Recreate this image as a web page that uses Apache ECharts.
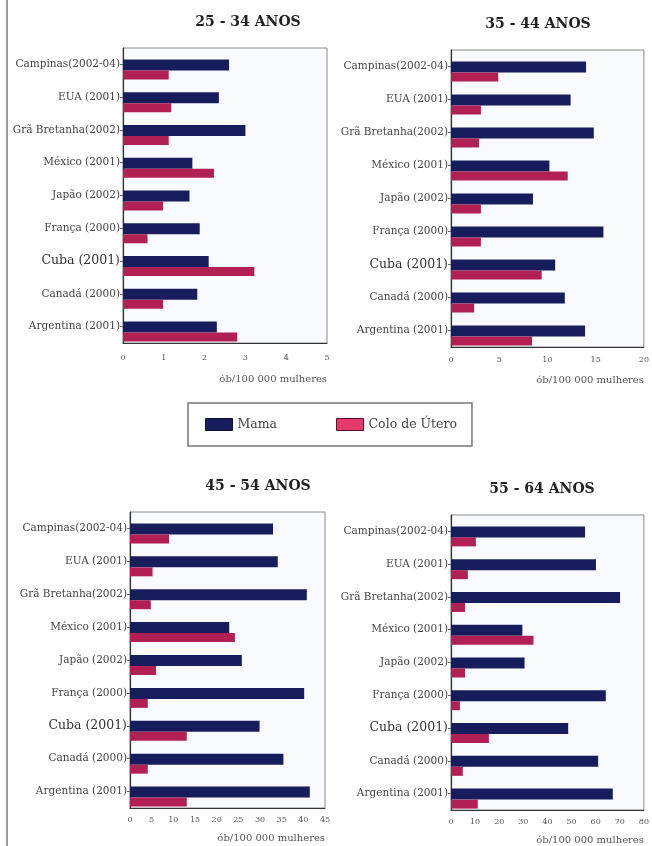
<!DOCTYPE html>
<html>
<head>
<meta charset="utf-8">
<script src="https://cdn.jsdelivr.net/npm/echarts@6/dist/echarts.min.js"></script>
<style>
  html, body { margin: 0; padding: 0; background: #ffffff; }
  #chart { width: 652px; height: 846px; }
</style>
</head>
<body>
<div id="chart"></div>
<script>
// Countries (top to bottom in every panel)
const countries = [
  'Campinas(2002-04)', 'EUA (2001)', 'Grã Bretanha(2002)', 'México (2001)',
  'Japão (2002)', 'França (2000)', 'Cuba (2001)', 'Canadá (2000)', 'Argentina (2001)'
];

// Age groups shown as panel titles
const ageGroups = ['25 - 34 ANOS', '35 - 44 ANOS', '45 - 54 ANOS', '55 - 64 ANOS'];

// Mortality rates, deaths per 100 000 women
const mama25 = [2.6, 2.35, 3.0, 1.7, 1.63, 1.88, 2.1, 1.82, 2.3];
const colo25 = [1.12, 1.18, 1.12, 2.23, 0.98, 0.6, 3.22, 0.98, 2.8];

const mama35 = [14.0, 12.4, 14.8, 10.2, 8.5, 15.8, 10.8, 11.8, 13.9];
const colo35 = [4.9, 3.1, 2.9, 12.1, 3.1, 3.1, 9.4, 2.4, 8.4];

const mama45 = [33.0, 34.1, 40.8, 22.9, 25.8, 40.2, 29.9, 35.4, 41.5];
const colo45 = [9.0, 5.2, 4.8, 24.2, 6.0, 4.1, 13.1, 4.1, 13.1];

const mama55 = [55.6, 60.1, 70.1, 29.6, 30.5, 64.2, 48.6, 61.0, 67.1];
const colo55 = [10.3, 7.0, 5.8, 34.2, 5.8, 3.7, 15.7, 4.9, 11.1];

// Axis ranges
const axisMax = [5, 20, 45, 80];
const axisStep = [1, 5, 5, 10];

const mamaSets = [mama25, mama35, mama45, mama55];
const coloSets = [colo25, colo35, colo45, colo55];

const axisTitle = 'ób/100 000 mulheres';
const NAVY = '#171d5c';
const CRIMSON = '#b21f52';
const SERIF = '"DejaVu Serif", "Liberation Serif", serif';

// Plot boxes for the four panels
const grids = [
  { left: 123, top: 48, width: 204, height: 295 },
  { left: 451, top: 50, width: 196, height: 297 },
  { left: 130, top: 512, width: 195, height: 296 },
  { left: 451, top: 515, width: 194, height: 295 }
];

const titleCenters = [
  { x: 243, y: 10 }, { x: 533, y: 12 }, { x: 253, y: 474 }, { x: 537, y: 477 }
];
const tickMargin = [11, 9, 8, 8];
const namePad = [31, 28, 25, 25];

const option = {
  backgroundColor: '#ffffff',
  animation: false,
  textStyle: { fontFamily: SERIF },
  title: ageGroups.map((t, i) => ({
    text: t,
    left: titleCenters[i].x,
    top: titleCenters[i].y,
    textAlign: 'center',
    textStyle: { fontFamily: SERIF, fontSize: 14, fontWeight: 'bold', color: '#222' }
  })),
  legend: {
    left: 188,
    top: 403,
    width: 285,
    data: [
      { name: 'Mama', itemStyle: { color: NAVY, borderColor: '#0c0f30', borderWidth: 1 } },
      { name: 'Colo de Útero', itemStyle: { color: '#e63a6b', borderColor: '#5a1028', borderWidth: 1 } }
    ],
    itemWidth: 27,
    itemHeight: 12,
    itemGap: 59,
    padding: [15, 15, 15, 17],
    borderColor: '#777',
    borderWidth: 1.5,
    icon: 'rect',
    textStyle: { fontFamily: SERIF, fontSize: 12.5, color: '#444' }
  },
  grid: grids.map(g => Object.assign({
    show: true,
    backgroundColor: '#f8fafd',
    borderColor: '#8a8a8a',
    borderWidth: 1
  }, g)),
  xAxis: grids.map((g, i) => ({
    type: 'value',
    gridIndex: i,
    min: 0,
    max: axisMax[i],
    interval: axisStep[i],
    splitLine: { show: false },
    axisLine: { show: true, lineStyle: { color: '#333', width: 1 } },
    axisTick: { show: false },
    axisLabel: { fontFamily: SERIF, fontSize: 8, color: '#555', margin: tickMargin[i] },
    name: axisTitle,
    nameLocation: 'end',
    nameGap: 0,
    nameTextStyle: {
      fontFamily: SERIF, fontSize: 10, color: '#555',
      align: 'right', verticalAlign: 'top', padding: [namePad[i], 0, 0, 0]
    }
  })),
  yAxis: grids.map((g, i) => ({
    type: 'category',
    gridIndex: i,
    inverse: true,
    data: countries,
    axisLine: { show: true, lineStyle: { color: '#333', width: 1.2 } },
    axisTick: { show: true, length: 3, alignWithLabel: true, lineStyle: { color: '#666' } },
    axisLabel: {
      fontFamily: SERIF, fontSize: 10.5, color: '#444', margin: 3,
      formatter: v => v.indexOf('Cuba') === 0 ? '{big|' + v + '}' : v,
      rich: { big: { fontFamily: SERIF, fontSize: 12.5, color: '#333' } }
    }
  })),
  series: []
};

for (let i = 0; i < 4; i++) {
  // empty slot ahead of the pair, so each pair sits low in its band
  option.series.push({
    name: 'spacer',
    type: 'bar',
    xAxisIndex: i,
    yAxisIndex: i,
    data: countries.map(() => null),
    barWidth: 10,
    barGap: '0%',
    silent: true
  });
  option.series.push({
    name: 'Mama',
    type: 'bar',
    xAxisIndex: i,
    yAxisIndex: i,
    data: mamaSets[i],
    barWidth: 11,
    barGap: '0%',
    itemStyle: { color: NAVY }
  });
  option.series.push({
    name: 'Colo de Útero',
    type: 'bar',
    xAxisIndex: i,
    yAxisIndex: i,
    data: coloSets[i],
    barWidth: 9,
    barGap: '0%',
    itemStyle: { color: CRIMSON }
  });
}

// Frame rule along the left edge of the figure
option.graphic = [{
  type: 'rect',
  shape: { x: 6, y: 0, width: 2, height: 846 },
  style: { fill: '#9a9a9a' },
  silent: true
}];

const chart = echarts.init(document.getElementById('chart'), null, { renderer: 'canvas' });
chart.setOption(option);
</script>
</body>
</html>
